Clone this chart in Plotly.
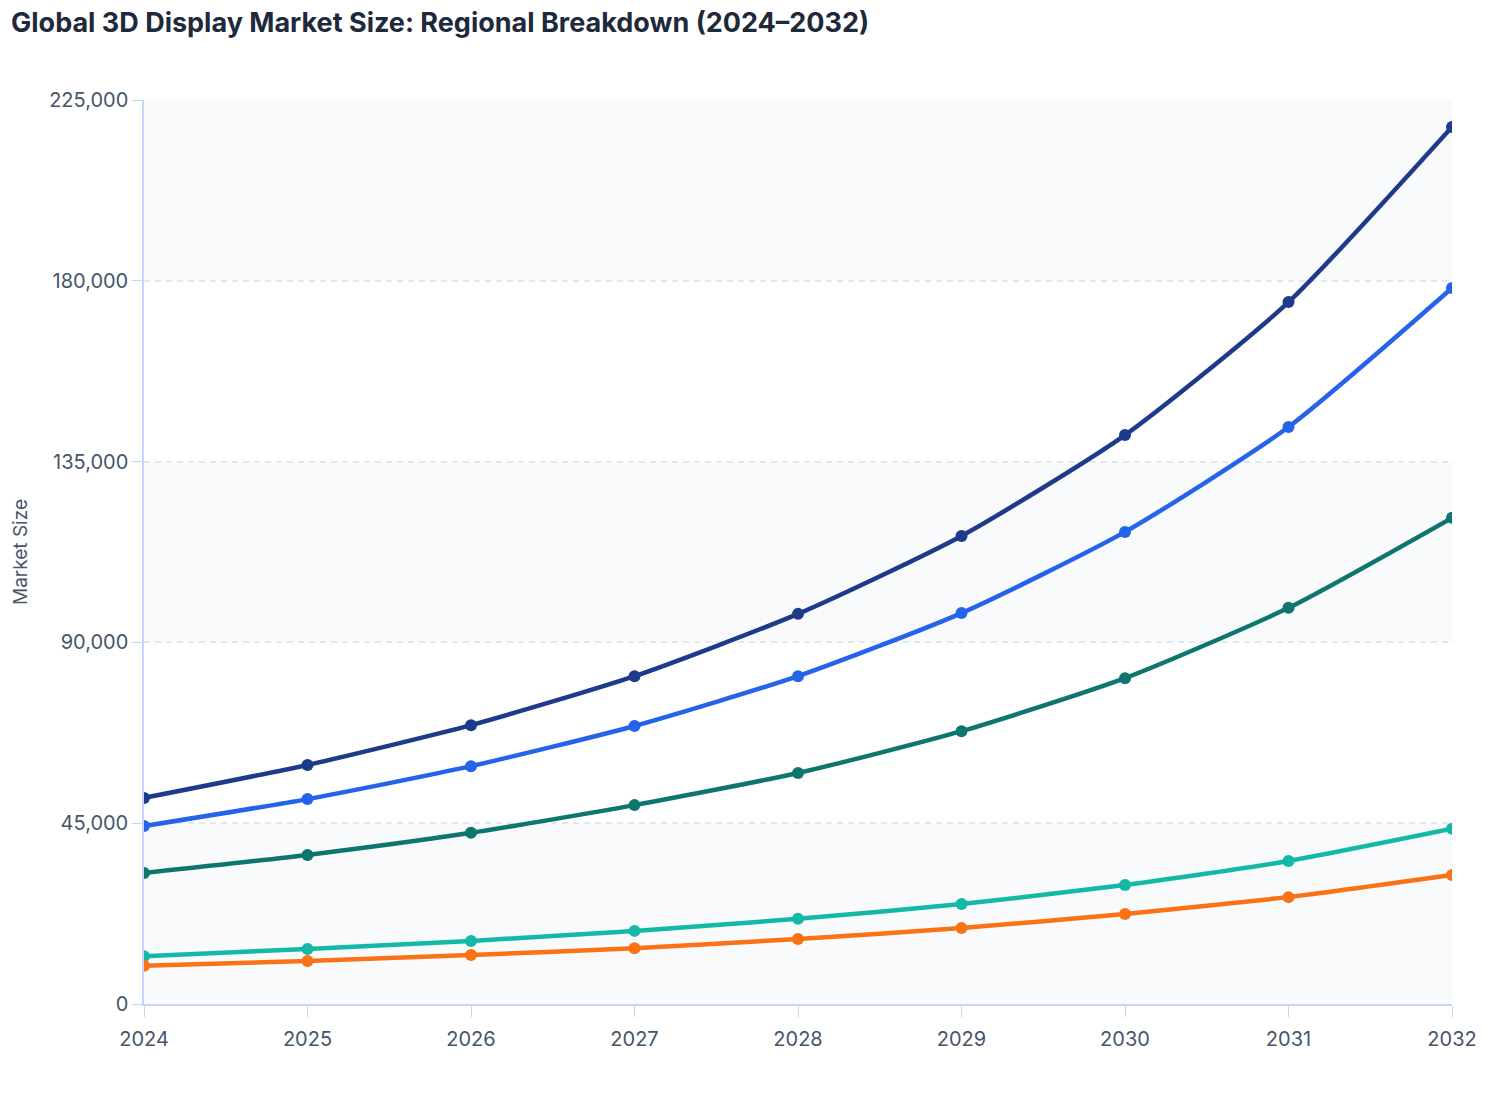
import plotly.graph_objects as go

years = [2024, 2025, 2026, 2027, 2028, 2029, 2030, 2031, 2032]

regions = ["Asia Pacific", "North America", "Europe", "Latin America", "Middle East & Africa"]
asia_pacific = [51300, 59500, 69400, 81600, 97100, 116500, 141600, 174700, 218300]
north_america = [44300, 51000, 59200, 69200, 81600, 97300, 117500, 143600, 178200]
europe = [32600, 37100, 42600, 49500, 57500, 67900, 81100, 98600, 121000]
latin_america = [11900, 13700, 15700, 18200, 21200, 24900, 29600, 35600, 43600]
middle_east_africa = [9500, 10700, 12200, 13900, 16200, 18900, 22400, 26600, 32100]

colors = ["#1e3a8a", "#2563eb", "#0f766e", "#14b8a6", "#f97316"]
series = [asia_pacific, north_america, europe, latin_america, middle_east_africa]

fig = go.Figure()

for name, vals, col in zip(regions, series, colors):
    fig.add_trace(go.Scatter(
        x=years, y=vals, name=name, mode="lines+markers",
        line=dict(color=col, width=4.5, shape="spline", smoothing=0.6),
        marker=dict(color=col, size=12),
        hovertemplate="%{y:,.0f}<extra>" + name + "</extra>",
    ))

# alternating horizontal bands behind the lines
for lo, hi in [(0, 45000), (90000, 135000), (180000, 225000)]:
    fig.add_shape(type="rect", xref="x", yref="y", x0=2024, x1=2032, y0=lo, y1=hi,
                  fillcolor="#f8fafc", line_width=0, layer="below")

tick_font = dict(family="Inter", size=20, color="#475569")

fig.update_xaxes(
    range=[2024, 2032], tickvals=years, showgrid=False,
    showline=True, linecolor="#c7d2fe", linewidth=1.5,
    ticks="outside", ticklen=11, tickcolor="#c7d2fe", ticklabelstandoff=5,
    tickfont=tick_font, zeroline=False,
)

fig.update_yaxes(
    range=[0, 225000], tickvals=[0, 45000, 90000, 135000, 180000, 225000],
    tickformat=",", showgrid=True, gridcolor="#e2e8f0", griddash="6px,5px", gridwidth=1.5,
    showline=True, linecolor="#c7d2fe", linewidth=1.5,
    ticks="outside", ticklen=10, tickcolor="#c7d2fe",
    tickfont=tick_font,
    title=dict(text="Market Size", font=dict(family="Inter", size=19, color="#475569"), standoff=16),
    zeroline=False,
)

fig.update_layout(
    width=1508, height=1120,
    title=dict(text="<b>Global 3D Display Market Size: Regional Breakdown (2024–2032)</b>",
               x=0.002, xanchor="left", y=0.987, yanchor="middle",
               font=dict(family="Inter", size=27, color="#1e293b")),
    paper_bgcolor="white", plot_bgcolor="white",
    margin=dict(l=136, r=64, t=92, b=124),
    showlegend=False,
    hovermode="x unified",
    font=dict(family="Inter"),
)

fig.write_html("out.html")
